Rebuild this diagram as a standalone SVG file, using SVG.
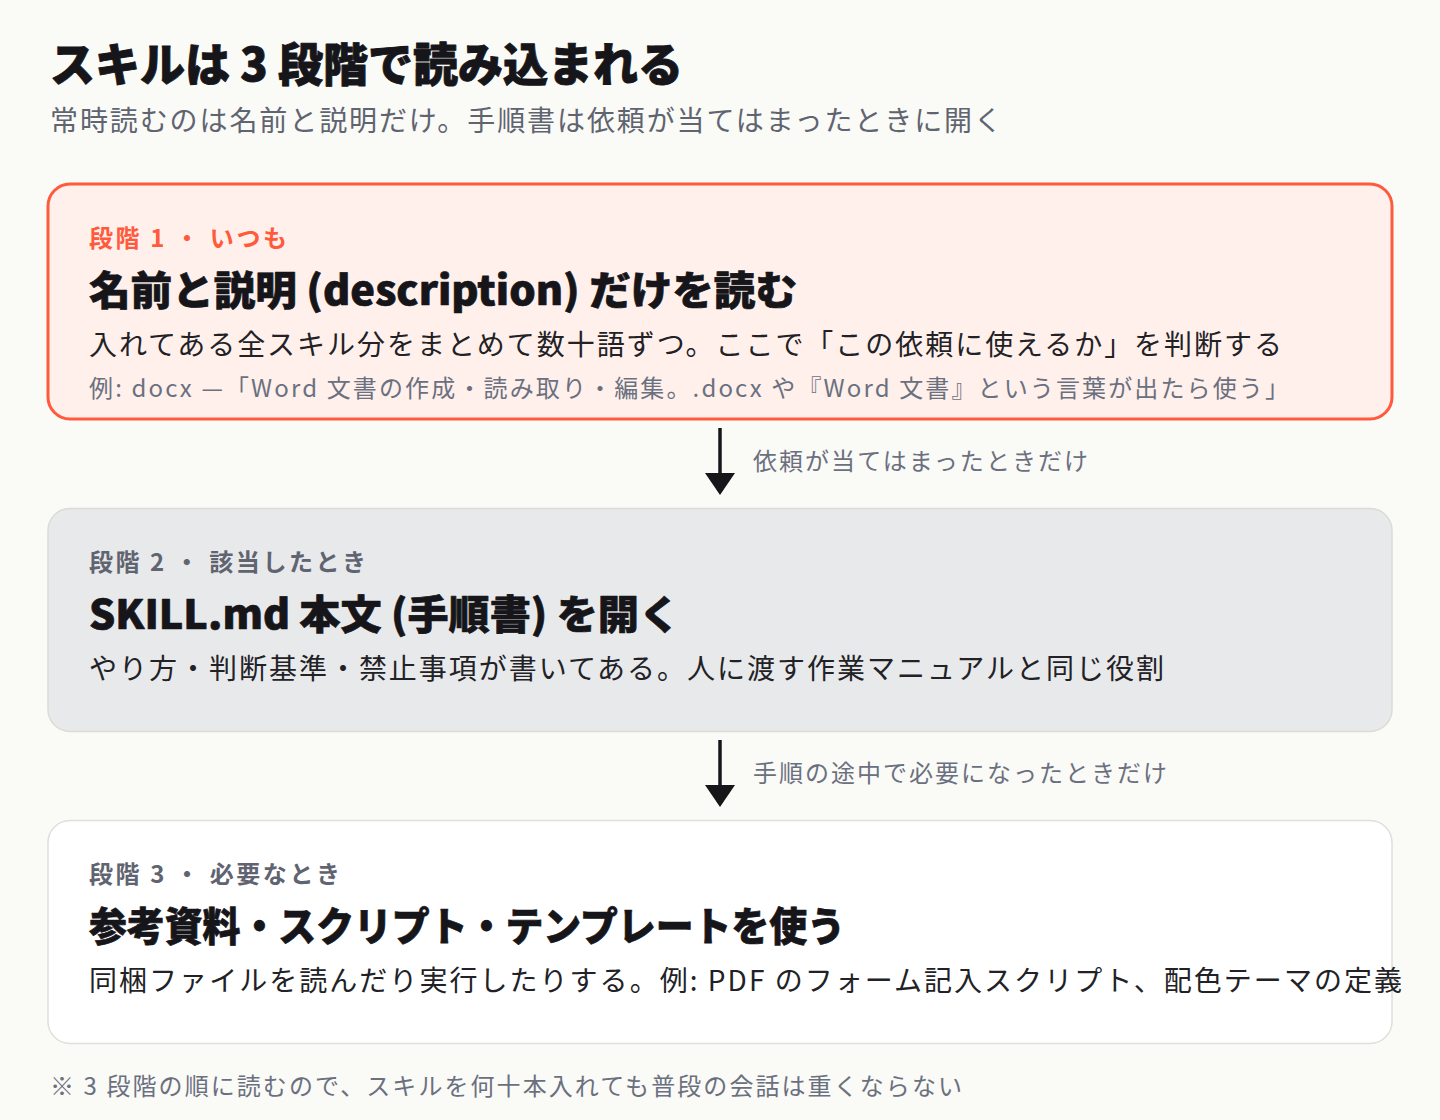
<svg xmlns="http://www.w3.org/2000/svg" width="1440" height="1120" viewBox="0 0 1440 1120">
<defs>
<style>
text{font-family:"Noto Sans CJK JP","Noto Sans",sans-serif;}
.title{font-size:46px;font-weight:900;fill:#16161a;stroke:#16161a;stroke-width:0.9px;stroke-linejoin:round;}
.sub{font-size:28px;fill:#5f6470;}
.lbl{font-size:24px;font-weight:700;fill:#5f6470;}
.lbl1{fill:#ff5a3c;}
.head{font-size:40px;font-weight:900;fill:#16161a;stroke:#16161a;stroke-width:0.7px;stroke-linejoin:round;}
.body{font-size:28px;fill:#222226;}
.ex{font-size:24px;fill:#6b7080;}
.note{font-size:24px;fill:#6b7080;}
.conn line{stroke:#16161a;stroke-width:3.5;}
</style>
<marker id="ah" markerUnits="userSpaceOnUse" markerWidth="22" markerHeight="30" viewBox="0 0 22 30" refX="0" refY="15" orient="auto">
<path d="M0,0 L22,15 L0,30 Z" fill="#16161a"/>
</marker>
</defs>
<rect width="1440" height="1120" fill="#fafaf6"/>
<text class="title" x="50" y="81" textLength="633" lengthAdjust="spacingAndGlyphs">スキルは 3 段階で読み込まれる</text>
<text class="sub" x="50" y="131" textLength="952" lengthAdjust="spacing">常時読むのは名前と説明だけ。手順書は依頼が当てはまったときに開く</text>

<g id="stage1">
<rect x="48" y="184" width="1344" height="235" rx="22" fill="#fff0eb" stroke="#ff5a3c" stroke-width="3"/>
<text class="lbl lbl1" x="89" y="247" textLength="198" lengthAdjust="spacing">段階 1 ・ いつも</text>
<text class="head" x="89" y="305" textLength="708" lengthAdjust="spacingAndGlyphs">名前と説明 (description) だけを読む</text>
<text class="body" x="89" y="355" textLength="1193" lengthAdjust="spacing">入れてある全スキル分をまとめて数十語ずつ。ここで「この依頼に使えるか」を判断する</text>
<text class="ex" x="89" y="397" textLength="1200" lengthAdjust="spacing">例: docx —「Word 文書の作成・読み取り・編集。.docx や『Word 文書』という言葉が出たら使う」</text>
</g>

<g id="stage2">
<rect x="48" y="508.5" width="1344" height="223" rx="22" fill="#e8e9eb" stroke="#dcdcd5" stroke-width="1.5"/>
<text class="lbl" x="89" y="571" textLength="277" lengthAdjust="spacing">段階 2 ・ 該当したとき</text>
<text class="head" x="89" y="629" textLength="591" lengthAdjust="spacingAndGlyphs">SKILL.md 本文 (手順書) を開く</text>
<text class="body" x="89" y="679" textLength="1075" lengthAdjust="spacing">やり方・判断基準・禁止事項が書いてある。人に渡す作業マニュアルと同じ役割</text>
</g>

<g id="stage3">
<rect x="48" y="820.5" width="1344" height="223" rx="22" fill="#ffffff" stroke="#e0e0da" stroke-width="1.5"/>
<text class="lbl" x="89" y="883" textLength="251" lengthAdjust="spacing">段階 3 ・ 必要なとき</text>
<text class="head" x="89" y="941" textLength="756" lengthAdjust="spacingAndGlyphs">参考資料・スクリプト・テンプレートを使う</text>
<text class="body" x="89" y="991" textLength="1313" lengthAdjust="spacing">同梱ファイルを読んだり実行したりする。例: PDF のフォーム記入スクリプト、配色テーマの定義</text>
</g>

<g id="connectors" class="conn">
<line x1="720" y1="428" x2="720" y2="473" marker-end="url(#ah)"/>
<text class="ex" x="753" y="470" textLength="335" lengthAdjust="spacing">依頼が当てはまったときだけ</text>
<line x1="720" y1="740" x2="720" y2="785" marker-end="url(#ah)"/>
<text class="ex" x="753" y="782" textLength="414" lengthAdjust="spacing">手順の途中で必要になったときだけ</text>
</g>

<text class="note" x="50" y="1095" textLength="912" lengthAdjust="spacing">※ 3 段階の順に読むので、スキルを何十本入れても普段の会話は重くならない</text>
</svg>
